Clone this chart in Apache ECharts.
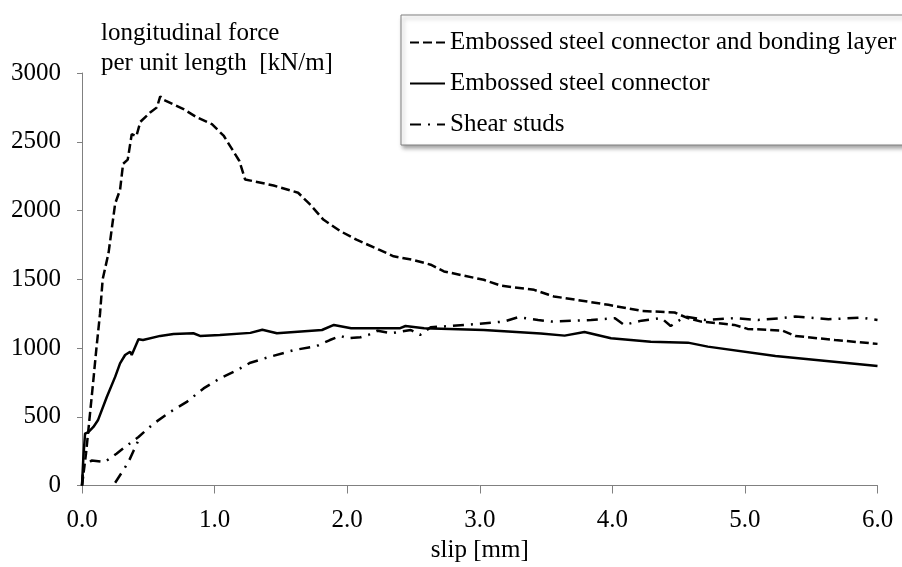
<!DOCTYPE html>
<html>
<head>
<meta charset="utf-8">
<script src="https://cdn.jsdelivr.net/npm/echarts@6/dist/echarts.min.js"></script>
<style>
html,body{margin:0;padding:0;background:#fff;}
#chart{width:902px;height:567px;}
</style>
</head>
<body>
<div id="chart"></div>
<script>
var xTicks = [0, 1, 2, 3, 4, 5, 6];
var yTicks = [0, 500, 1000, 1500, 2000, 2500, 3000];
var seriesNames = [
  'Embossed steel connector and bonding layer',
  'Embossed steel connector',
  'Shear studs'
];
var bondingLayer = [
  [0,0],[0.03,230],[0.055,470],[0.086,770],[0.11,1010],[0.136,1250],[0.156,1500],
  [0.2,1690],[0.25,2050],[0.287,2150],[0.31,2340],[0.345,2370],[0.375,2555],[0.41,2540],
  [0.44,2645],[0.514,2713],[0.565,2750],[0.59,2830],[0.615,2805],[0.766,2737],[0.867,2677],
  [0.98,2628],[1.07,2542],[1.187,2360],[1.23,2226],[1.445,2182],[1.63,2129],[1.72,2044],
  [1.82,1934],[1.95,1849],[2.07,1788],[2.24,1715],[2.35,1667],[2.5,1640],[2.63,1606],
  [2.73,1557],[3.03,1496],[3.16,1453],[3.41,1423],[3.52,1387],[3.56,1375],[3.97,1314],
  [4.22,1270],[4.47,1258],[4.57,1217],[4.67,1192],[4.92,1168],[5.02,1139],[5.28,1127],
  [5.38,1088],[5.68,1058],[6.0,1030]
];
var embossed = [
  [0,0],[0.01,200],[0.023,377],[0.048,389],[0.086,426],[0.12,474],[0.187,644],[0.25,790],
  [0.287,888],[0.325,949],[0.363,973],[0.375,949],[0.426,1063],[0.46,1058],[0.59,1088],
  [0.69,1102],[0.84,1107],[0.89,1088],[1.04,1095],[1.27,1110],[1.36,1133],[1.47,1107],
  [1.81,1131],[1.9,1168],[2.03,1144],[2.4,1144],[2.44,1160],[2.58,1144],[3.03,1131],
  [3.46,1106],[3.64,1090],[3.79,1117],[3.99,1071],[4.29,1046],[4.57,1039],[4.72,1010],
  [5.23,942],[6.0,869]
];
var shearStudsLoad = [
  [0.25,20],[0.31,109],[0.35,170],[0.39,255],[0.426,330]
];
var shearStuds = [
  [0,0],[0.01,134],[0.073,182],[0.17,170],[0.26,231],[0.325,280],[0.426,353],[0.54,450],
  [0.665,535],[0.79,608],[0.917,706],[1.04,779],[1.17,839],[1.27,893],[1.42,937],[1.6,985],
  [1.77,1014],[1.87,1058],[1.95,1088],[2.0,1071],[2.1,1078],[2.16,1095],[2.23,1126],
  [2.33,1107],[2.48,1131],[2.55,1095],[2.63,1151],[2.78,1160],[2.98,1175],[3.18,1192],
  [3.29,1224],[3.44,1204],[3.54,1192],[3.84,1204],[4.02,1217],[4.09,1168],[4.22,1199],
  [4.37,1217],[4.44,1160],[4.55,1229],[4.7,1204],[4.92,1217],[5.1,1204],[5.28,1217],
  [5.38,1229],[5.63,1209],[5.88,1221],[6.0,1204]
];

var FONT = '"Liberation Serif", "Times New Roman", serif';
var FS = 25;
var chart = echarts.init(document.getElementById('chart'), null, {renderer: 'canvas'});
var dashA = [9, 4];
var dashDot = [11, 7, 2, 7];
chart.setOption({
  animation: false,
  backgroundColor: '#fff',
  textStyle: {fontFamily: FONT, color: '#000'},
  title: {
    text: 'longitudinal force\nper unit length  [kN/m]',
    left: 96, top: 13,
    textStyle: {fontFamily: FONT, fontSize: FS, fontWeight: 'normal', color: '#000', lineHeight: 30}
  },
  legend: {
    data: seriesNames,
    orient: 'vertical',
    left: 401, top: 15,
    padding: [15, 40, 8, 8],
    itemGap: 16,
    itemWidth: 35, itemHeight: 14,
    backgroundColor: '#fff',
    borderColor: '#808080', borderWidth: 1,
    shadowColor: 'rgba(0,0,0,0.35)', shadowBlur: 4, shadowOffsetX: 2, shadowOffsetY: 3,
    itemStyle: {color: 'transparent', borderColor: 'transparent', borderWidth: 0},
    textStyle: {fontFamily: FONT, fontSize: FS, color: '#000', lineHeight: 24}
  },
  grid: {left: 82, right: 24.5, top: 73, bottom: 81.5, containLabel: false, outerBoundsMode: 'none'},
  xAxis: {
    type: 'value', min: xTicks[0], max: xTicks[xTicks.length-1], interval: 1,
    name: 'slip [mm]', nameLocation: 'middle', nameGap: 52,
    nameTextStyle: {fontFamily: FONT, fontSize: FS, color: '#000'},
    axisLine: {show: true, onZero: false, lineStyle: {color: '#808080', width: 1}},
    axisTick: {show: true, length: 8, lineStyle: {color: '#808080'}},
    axisLabel: {margin: 22, fontFamily: FONT, fontSize: FS, color: '#000', formatter: function(v){return v.toFixed(1);}},
    splitLine: {show: false}
  },
  yAxis: {
    type: 'value', min: yTicks[0], max: yTicks[yTicks.length-1], interval: 500,
    axisLine: {show: true, lineStyle: {color: '#808080', width: 1}},
    axisTick: {show: true, length: 5, lineStyle: {color: '#808080'}},
    axisLabel: {margin: 21, fontFamily: FONT, fontSize: FS, color: '#000', formatter: function(v){return String(v);}},
    splitLine: {show: false}
  },
  series: [
    {name: seriesNames[0], type: 'line', data: bondingLayer, symbol: 'none', smooth: false,
     lineStyle: {color: '#000', width: 2.5, type: dashA}, itemStyle: {color: '#000'}},
    {name: seriesNames[1], type: 'line', data: embossed, symbol: 'none',
     lineStyle: {color: '#000', width: 2.5, type: 'solid'}, itemStyle: {color: '#000'}},
    {name: seriesNames[2], type: 'line', data: shearStuds, symbol: 'none',
     lineStyle: {color: '#000', width: 2.5, type: dashDot}, itemStyle: {color: '#000'}},
    {name: 'Shear studs (reload)', type: 'line', data: shearStudsLoad, symbol: 'none',
     lineStyle: {color: '#000', width: 2.5, type: dashDot}, itemStyle: {color: '#000'}}
  ]
});
</script>
</body>
</html>
